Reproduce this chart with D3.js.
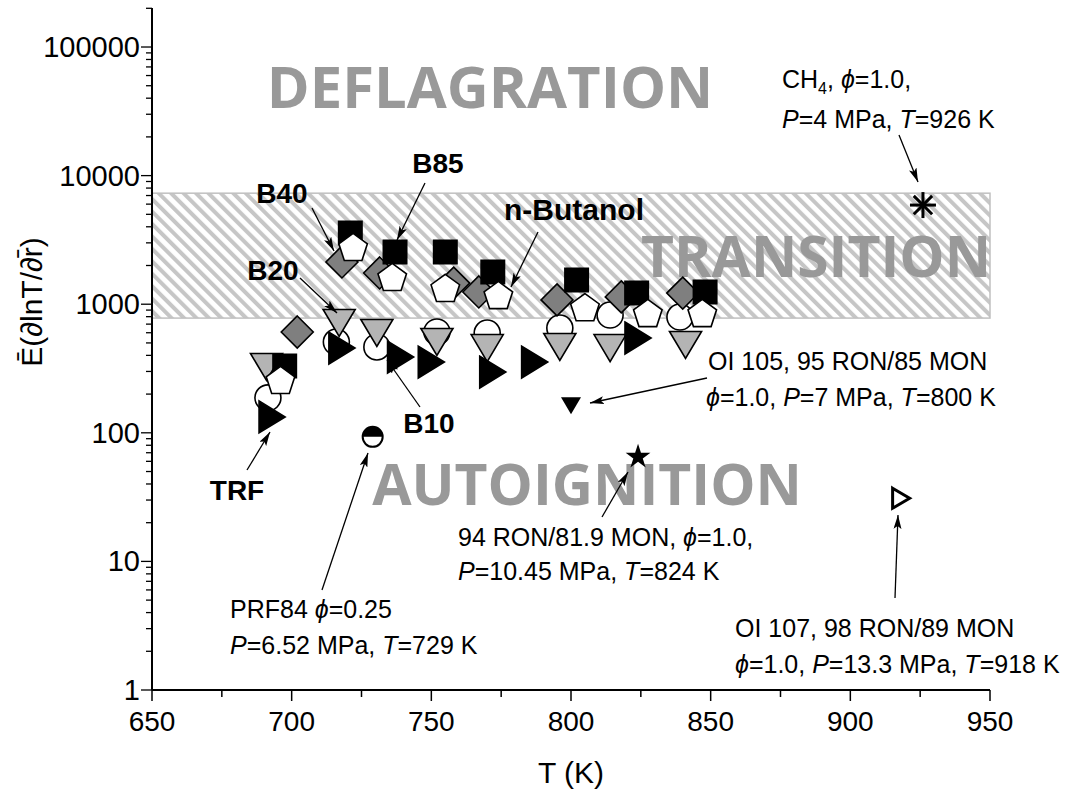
<!DOCTYPE html>
<html><head><meta charset="utf-8">
<script src="https://cdn.jsdelivr.net/npm/d3@7"></script>
<style>body{margin:0;background:#fff}svg{display:block}</style>
</head><body>
<svg id="c" width="1065" height="793"></svg>
<script>
// ---- data ----
const xTicks = [650, 700, 750, 800, 850, 900, 950];
const yTicks = [1, 10, 100, 1000, 10000, 100000];
const yTickLabels = ["1", "10", "100", "1000", "10000", "100000"];

const trfT = [693, 718, 739, 750, 772, 787, 824];
const trfE = [133, 456, 388, 355, 297, 355, 546];
const b10T = [691.5, 716, 730.5, 752, 770, 796, 814, 839];
const b10E = [187, 508, 465, 608, 597, 653, 824, 795];
const b20T = [691, 717, 730.5, 752, 770, 796, 814, 841];
const b20E = [325, 714, 597, 508, 456, 465, 456, 482];
const b40T = [702, 718, 731.5, 758, 767, 795, 818, 840];
const b40E = [608, 2130, 1750, 1460, 1245, 1080, 1140, 1220];
const b85T = [697.5, 721, 737, 755, 772, 802, 823.5, 848];
const b85E = [331, 3580, 2550, 2550, 1780, 1540, 1220, 1245];
const butT = [696, 722, 736, 755, 774, 805, 827.5, 847];
const butE = [258, 2790, 1630, 1340, 1180, 950, 855, 855];

const otherNames = ["PRF84", "OI105", "94RON", "OI107", "CH4"];
const otherT = [729, 800, 824, 918, 926];
const otherE = [93, 164, 65, 31, 5900];

const bandE = [780, 7300];

// ---- layout ----
const svg = d3.select("#c");
const x = d3.scaleLinear().domain([650, 950]).range([152, 990]);
const y = d3.scaleLog().domain([1, 200000]).range([690, 8.3]);
const FONT = "'Liberation Sans', Arial, sans-serif";

// hatch pattern
const defs = svg.append("defs");
const pat = defs.append("pattern").attr("id", "hatch").attr("patternUnits", "userSpaceOnUse")
  .attr("width", 8.8).attr("height", 8.8).attr("patternTransform", "rotate(-45)");
pat.append("rect").attr("width", 8.8).attr("height", 8.8).attr("fill", "#fff");
pat.append("rect").attr("x", 0).attr("width", 4).attr("height", 8.8).attr("fill", "#c6c6c6");
const mk = defs.append("marker").attr("id", "ah").attr("viewBox", "0 0 14 8").attr("refX", 14).attr("refY", 4)
  .attr("markerWidth", 14).attr("markerHeight", 8).attr("markerUnits", "userSpaceOnUse").attr("orient", "auto");
mk.append("path").attr("d", "M0,0 L14,4 L0,8 L3,4 Z").attr("fill", "#000");

// band
svg.append("rect").attr("x", x(650)).attr("y", y(bandE[1])).attr("width", x(950) - x(650))
  .attr("height", y(bandE[0]) - y(bandE[1])).attr("fill", "url(#hatch)").attr("stroke", "#c0c0c0").attr("stroke-width", 1.5);

// region labels
const big = [["DEFLAGRATION", 490, 108, 58], ["TRANSITION", 816, 277, 57], ["AUTOIGNITION", 587, 505, 57]];
svg.selectAll("text.big").data(big).join("text").attr("class", "big")
  .attr("x", d => d[1]).attr("y", d => d[2]).attr("text-anchor", "middle")
  .attr("font-family", "'Open Sans', sans-serif").attr("font-weight", "bold").attr("font-size", d => d[3])
  .attr("fill", "#999").text(d => d[0]);

// axes
const xAxis = svg.append("g").attr("transform", "translate(0,690)");
xAxis.append("line").attr("x1", 152).attr("x2", 990).attr("stroke", "#000").attr("stroke-width", 2);
const xMinor = d3.range(650, 951, 25);
xAxis.selectAll("line.t").data(xMinor).join("line").attr("class", "t")
  .attr("x1", d => x(d)).attr("x2", d => x(d)).attr("y1", 0).attr("y2", d => d % 50 === 0 ? 11 : 7)
  .attr("stroke", "#000").attr("stroke-width", 1.5);
xAxis.selectAll("text").data(xTicks).join("text").attr("x", d => x(d)).attr("y", 41)
  .attr("text-anchor", "middle").attr("font-family", FONT).attr("font-size", 28).text(d => d);

const yAxis = svg.append("g").attr("transform", "translate(152,0)");
yAxis.append("line").attr("y1", 690).attr("y2", 8).attr("stroke", "#000").attr("stroke-width", 2);
const yMinor = [];
for (let p = 0; p < 6; p++) for (let m = 1; m <= 9; m++) { const v = m * Math.pow(10, p); if (v <= 200000) yMinor.push(v); }
yAxis.selectAll("line.t").data(yMinor).join("line").attr("class", "t")
  .attr("x1", d => yTicks.includes(d) ? -11 : -6).attr("x2", 0).attr("y1", d => y(d)).attr("y2", d => y(d))
  .attr("stroke", "#000").attr("stroke-width", 1.3);
yAxis.selectAll("text").data(yTicks).join("text").attr("x", -12).attr("y", d => y(d) + 10)
  .attr("text-anchor", "end").attr("font-family", FONT).attr("font-size", 29).text((d, i) => yTickLabels[i]);

svg.append("text").attr("x", 571).attr("y", 783).attr("text-anchor", "middle")
  .attr("font-family", FONT).attr("font-size", 30).text("T (K)");
svg.append("text").attr("transform", "translate(42,302) rotate(-90)").attr("text-anchor", "middle")
  .attr("font-family", FONT).attr("font-size", 30).text("\u0112(\u2202lnT/\u2202r\u0304)");

// marker shapes
const shapes = {
  square: s => `M${-s},${-s}H${s}V${s}H${-s}Z`,
  diamond: s => `M0,${-s}L${s},0L0,${s}L${-s},0Z`,
  pentagon: s => d3.range(5).map((i) => { const a = -Math.PI / 2 + i * 2 * Math.PI / 5; return (i ? "L" : "M") + (s * Math.cos(a)).toFixed(2) + "," + (s * Math.sin(a) + s * 0.1).toFixed(2); }).join("") + "Z",
  circle: s => `M${-s},0A${s},${s} 0 1 0 ${s},0A${s},${s} 0 1 0 ${-s},0Z`,
  down: s => `M${-s * 1.07},${-s * 0.9}L${s * 1.07},${-s * 0.9}L0,${s * 0.9}Z`,
  right: s => `M${-s * 0.9},${-s * 1.1}L${s * 0.9},0L${-s * 0.9},${s * 1.1}Z`
};
const series = [
  { T: b10T, E: b10E, shape: "circle", s: 13, fill: "#fff" },
  { T: b20T, E: b20E, shape: "down", s: 15, fill: "#b4b4b4" },
  { T: b40T, E: b40E, shape: "diamond", s: 16, fill: "#7f7f7f" },
  { T: b85T, E: b85E, shape: "square", s: 11.7, fill: "#000" },
  { T: butT, E: butE, shape: "pentagon", s: 15, fill: "#fff" },
  { T: trfT, E: trfE, shape: "right", s: 14.5, fill: "#000" }
];
series.forEach(sr => {
  svg.append("g").selectAll("path").data(sr.T.map((t, i) => [t, sr.E[i]])).join("path")
    .attr("transform", d => `translate(${x(d[0])},${y(d[1])})`)
    .attr("d", shapes[sr.shape](sr.s)).attr("fill", sr.fill).attr("stroke", "#000").attr("stroke-width", 1.6);
});

// special points
const sp = svg.append("g");
otherNames.forEach((n, i) => {
  const g = sp.append("g").attr("transform", `translate(${x(otherT[i])},${y(otherE[i])})`);
  if (n === "PRF84") {
    g.append("circle").attr("r", 10).attr("fill", "#fff").attr("stroke", "#000").attr("stroke-width", 2);
    g.append("path").attr("d", "M-10,0A10,10 0 0 1 10,0Z").attr("fill", "#000");
  } else if (n === "OI105") {
    g.append("path").attr("d", "M-10,-8L10,-8L0,9Z").attr("fill", "#000");
  } else if (n === "94RON") {
    g.append("path").attr("d", d3.symbol(d3.symbolStar, 190)()).attr("fill", "#000");
  } else if (n === "OI107") {
    g.append("path").attr("d", "M-8,-10L9,0L-8,10Z").attr("fill", "#fff").attr("stroke", "#000").attr("stroke-width", 3);
  } else if (n === "CH4") {
    const r = 13;
    [0, 45, 90, 135].forEach(a => {
      const c = Math.cos(a * Math.PI / 180) * r, s = Math.sin(a * Math.PI / 180) * r;
      g.append("line").attr("x1", -c).attr("y1", -s).attr("x2", c).attr("y2", s).attr("stroke", "#000").attr("stroke-width", 3);
    });
  }
});

// arrows
const arrows = [
  [312, 208, 334, 251], [425, 183, 397, 240], [300, 278, 337, 313], [420, 407, 387, 360],
  [538, 232, 511, 287], [247, 470, 270, 432], [322, 590, 368, 453], [602, 517, 628, 472],
  [707, 378, 590, 403], [895, 598, 898, 515], [899, 135, 918, 182]
];
svg.append("g").selectAll("line").data(arrows).join("line")
  .attr("x1", d => d[0]).attr("y1", d => d[1]).attr("x2", d => d[2]).attr("y2", d => d[3])
  .attr("stroke", "#000").attr("stroke-width", 1.3).attr("marker-end", "url(#ah)");

// bold series labels
const bl = [["B40", 282, 203, 28], ["B85", 438, 173, 28], ["B20", 273, 280, 28], ["n-Butanol", 574, 220, 30], ["B10", 429, 433, 28], ["TRF", 237, 500, 28]];
svg.append("g").selectAll("text").data(bl).join("text").attr("x", d => d[1]).attr("y", d => d[2])
  .attr("text-anchor", "middle").attr("font-family", FONT).attr("font-weight", "bold").attr("font-size", d => d[3]).text(d => d[0]);

// annotation texts
function ann(xp, yp, parts) {
  const t = svg.append("text").attr("x", xp).attr("y", yp).attr("font-family", FONT).attr("font-size", 25);
  parts.forEach(p => {
    const ts = t.append("tspan").text(p[0]);
    if (p[1] === "i") ts.attr("font-style", "italic");
    if (p[1] === "sub") ts.attr("font-size", 16).attr("dy", 6);
    if (p[1] === "up") ts.attr("dy", -6);
  });
}
ann(782, 88, [["CH"], ["4", "sub"], [", ", "up"], ["\u03D5", "i"], ["=1.0,"]]);
ann(782, 128, [["P", "i"], ["=4 MPa, "], ["T", "i"], ["=926 K"]]);
ann(708, 370, [["OI 105, 95 RON/85 MON"]]);
ann(706, 406, [["\u03D5", "i"], ["=1.0, "], ["P", "i"], ["=7 MPa, "], ["T", "i"], ["=800 K"]]);
ann(458, 546, [["94 RON/81.9 MON, "], ["\u03D5", "i"], ["=1.0,"]]);
ann(458, 580, [["P", "i"], ["=10.45 MPa, "], ["T", "i"], ["=824 K"]]);
ann(230, 618, [["PRF84 "], ["\u03D5", "i"], ["=0.25"]]);
ann(230, 654, [["P", "i"], ["=6.52 MPa, "], ["T", "i"], ["=729 K"]]);
ann(735, 637, [["OI 107, 98 RON/89 MON"]]);
ann(735, 673, [["\u03D5", "i"], ["=1.0, "], ["P", "i"], ["=13.3 MPa, "], ["T", "i"], ["=918 K"]]);
</script>
</body></html>
